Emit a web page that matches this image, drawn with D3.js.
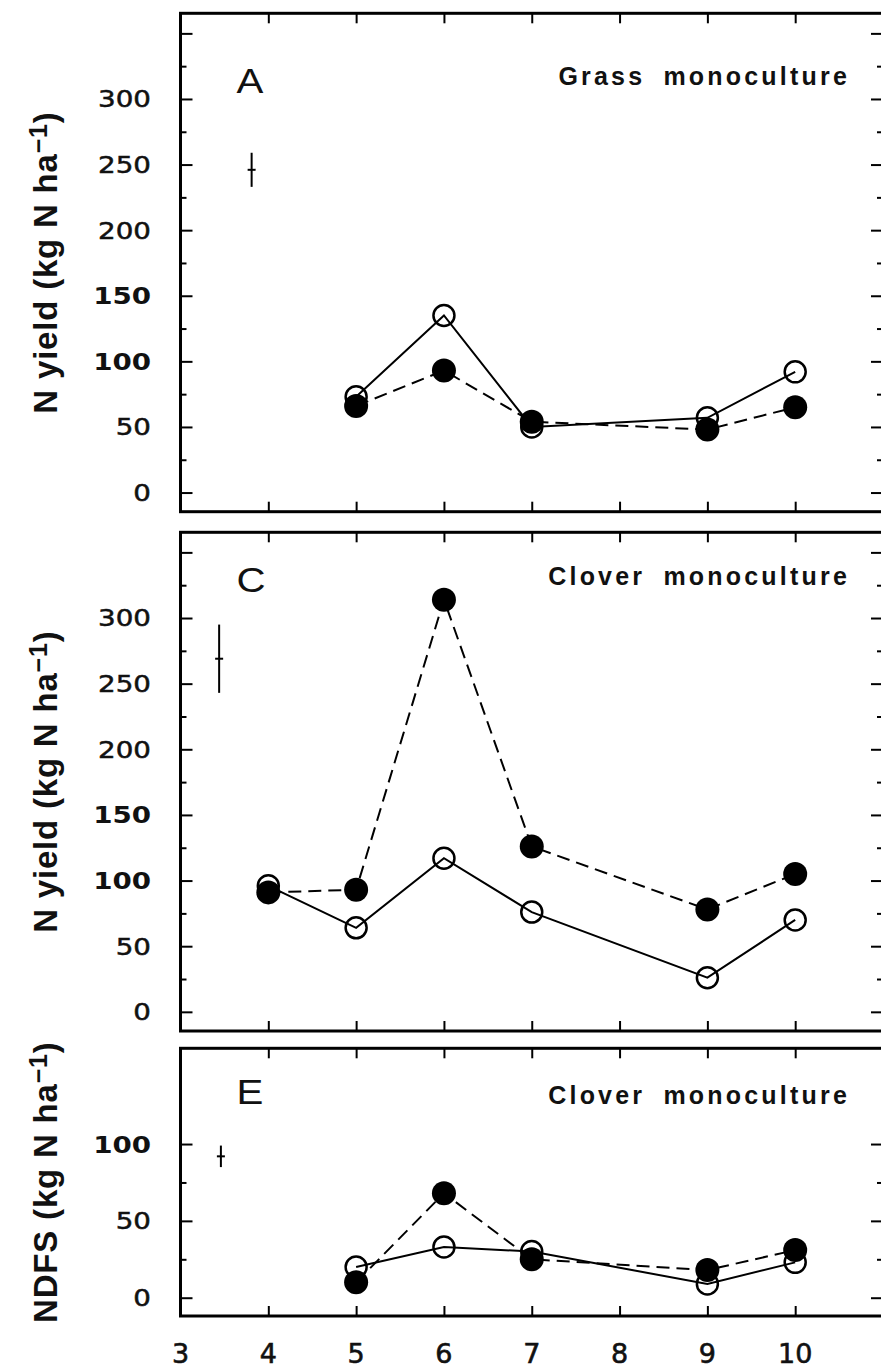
<!DOCTYPE html>
<html><head><meta charset="utf-8">
<script src="https://cdn.jsdelivr.net/npm/d3@7"></script>
<style>html,body{margin:0;padding:0;background:#fff;} svg{display:block;}</style>
</head><body><svg id="c" width="881" height="1369"></svg>
<script>
// ---- data ----
const xTickLabels = [3, 4, 5, 6, 7, 8, 9, 10];
const yearsA = [5, 6, 7, 9, 10];
const openA = [73, 135, 50, 57, 92];
const filledA = [66, 93, 54, 48, 65];
const yearsC = [4, 5, 6, 7, 9, 10];
const openC = [96, 64, 117, 76, 26, 70];
const filledC = [91, 93, 314, 126, 78, 105];
const yearsE = [5, 6, 7, 9, 10];
const openE = [20, 33, 30, 9, 23];
const filledE = [10, 68, 25, 18, 31];
const yTickLabelsAC = [0, 50, 100, 150, 200, 250, 300];
const yTickLabelsE = [0, 50, 100];
const panelLetters = ["A", "C", "E"];
const panelTitles = ["Grass monoculture", "Clover monoculture", "Clover monoculture"];
const axisTitles = ["N yield (kg N ha", "N yield (kg N ha", "NDFS (kg N ha"];
const errX = [3.81, 3.44, 3.46];
const errMid = [246, 269, 92];
const errHalf = [13, 26, 7];

// ---- layout ----
const svg = d3.select("#c");
const x = d3.scaleLinear().domain([3, 11]).range([180.5, 883]);
const panels = [
  {top: 13.3, bottom: 511.7, dom: [-14.6, 365.3], major: d3.range(0, 351, 50), minor: d3.range(25, 351, 50),
   labels: yTickLabelsAC, years: yearsA, open: openA, filled: filledA, letterY: 93, titleY: 85},
  {top: 532.3, bottom: 1031, dom: [-14.6, 365.3], major: d3.range(0, 351, 50), minor: d3.range(25, 351, 50),
   labels: yTickLabelsAC, years: yearsC, open: openC, filled: filledC, letterY: 592, titleY: 585},
  {top: 1048.3, bottom: 1316, dom: [-11.9, 162.3], major: [0, 50, 100], minor: [25, 75],
   labels: yTickLabelsE, years: yearsE, open: openE, filled: filledE, letterY: 1104, titleY: 1104}
];

panels.forEach((p, i) => {
  const y = d3.scaleLinear().domain(p.dom).range([p.bottom, p.top]);
  const g = svg.append("g");
  const x0 = x(3), x1 = x(11);

  // ticks (inward) via d3 axes
  const addAxis = (axis, tx, ty) => {
    const a = g.append("g").attr("transform", `translate(${tx},${ty})`).call(axis);
    a.select(".domain").remove();
    a.selectAll("line").attr("stroke", "#000").attr("stroke-width", 2);
    a.selectAll("text").remove();
  };
  addAxis(d3.axisRight(y).tickValues(p.major).tickSize(12).tickFormat(""), x0, 0);
  addAxis(d3.axisRight(y).tickValues(p.minor).tickSize(6).tickFormat(""), x0, 0);
  addAxis(d3.axisLeft(y).tickValues(p.major).tickSize(12).tickFormat(""), x1, 0);
  addAxis(d3.axisLeft(y).tickValues(p.minor).tickSize(6).tickFormat(""), x1, 0);
  const xt = d3.range(4, 11);
  addAxis(d3.axisBottom(x).tickValues(xt).tickSize(10).tickFormat(""), 0, p.top);
  addAxis(d3.axisTop(x).tickValues(xt).tickSize(10).tickFormat(""), 0, p.bottom);

  // frame
  g.append("rect").attr("x", x0).attr("y", p.top).attr("width", x1 - x0).attr("height", p.bottom - p.top)
    .attr("fill", "none").attr("stroke", "#000").attr("stroke-width", 3);

  // y tick labels
  g.selectAll("text.yl").data(p.labels).join("text").attr("class", "yl")
    .attr("transform", d => `translate(151,${y(d)}) scale(1.18,1)`)
    .attr("text-anchor", "end").attr("dy", "0.36em")
    .attr("font-family", "DejaVu Sans, sans-serif").attr("font-size", 23.5)
    .attr("font-weight", d => (d === 100 || d === 150) ? "bold" : "normal")
    .attr("stroke", "#111").attr("stroke-width", d => (d === 100 || d === 150) ? 0 : 0.5)
    .attr("fill", "#111").text(d => d);

  // axis title
  const cy = (p.top + p.bottom) / 2;
  const t = g.append("text").attr("transform", `translate(57,${cy}) rotate(-90)`)
    .attr("text-anchor", "middle").attr("font-family", "Liberation Sans, Arial, sans-serif")
    .attr("font-weight", "bold").attr("font-size", 33).attr("letter-spacing", 0.8).attr("fill", "#111");
  t.append("tspan").text(axisTitles[i]);
  t.append("tspan").attr("font-size", 25).attr("dy", -10).text("\u22121");
  t.append("tspan").attr("dy", 10).text(")");

  // panel letter
  g.append("text").attr("transform", `translate(${x(3) + 56},${p.letterY}) scale(1.15,1)`)
    .attr("font-family", "Liberation Sans, Arial, sans-serif").attr("font-size", 35)
    .attr("fill", "#111").text(panelLetters[i]);
  // panel title
  g.append("text").attr("x", 850).attr("y", p.titleY).attr("text-anchor", "end")
    .attr("font-family", "Liberation Sans, Arial, sans-serif").attr("font-weight", "bold")
    .attr("font-size", 25).attr("letter-spacing", 3.2).attr("word-spacing", 8)
    .attr("fill", "#111").text(panelTitles[i]);

  // error bar
  const ex = x(errX[i]);
  g.append("line").attr("x1", ex).attr("x2", ex).attr("y1", y(errMid[i] - errHalf[i])).attr("y2", y(errMid[i] + errHalf[i]))
    .attr("stroke", "#000").attr("stroke-width", 2);
  g.append("line").attr("x1", ex - 4).attr("x2", ex + 4).attr("y1", y(errMid[i])).attr("y2", y(errMid[i]))
    .attr("stroke", "#000").attr("stroke-width", 2);

  // series
  const openPts = p.years.map((yr, k) => [yr, p.open[k]]);
  const filledPts = p.years.map((yr, k) => [yr, p.filled[k]]);
  const line = d3.line().x(d => x(d[0])).y(d => y(d[1]));
  g.append("path").attr("d", line(openPts)).attr("fill", "none").attr("stroke", "#000").attr("stroke-width", 2);
  g.append("path").attr("d", line(filledPts)).attr("fill", "none").attr("stroke", "#000").attr("stroke-width", 2)
    .attr("stroke-dasharray", "13,7");
  g.selectAll("circle.o").data(openPts).join("circle").attr("class", "o")
    .attr("cx", d => x(d[0])).attr("cy", d => y(d[1])).attr("r", 10.5)
    .attr("fill", "none").attr("stroke", "#000").attr("stroke-width", 2.5);
  g.selectAll("circle.f").data(filledPts).join("circle").attr("class", "f")
    .attr("cx", d => x(d[0])).attr("cy", d => y(d[1])).attr("r", 12).attr("fill", "#000");
});

// bottom x labels
svg.selectAll("text.xl").data(xTickLabels).join("text").attr("class", "xl")
  .attr("x", d => x(d)).attr("y", 1363).attr("text-anchor", "middle")
  .attr("font-family", "DejaVu Sans, sans-serif").attr("font-size", 27)
  .attr("stroke", "#111").attr("stroke-width", 0.6)
  .attr("fill", "#111").text(d => d);
</script>
</body></html>
